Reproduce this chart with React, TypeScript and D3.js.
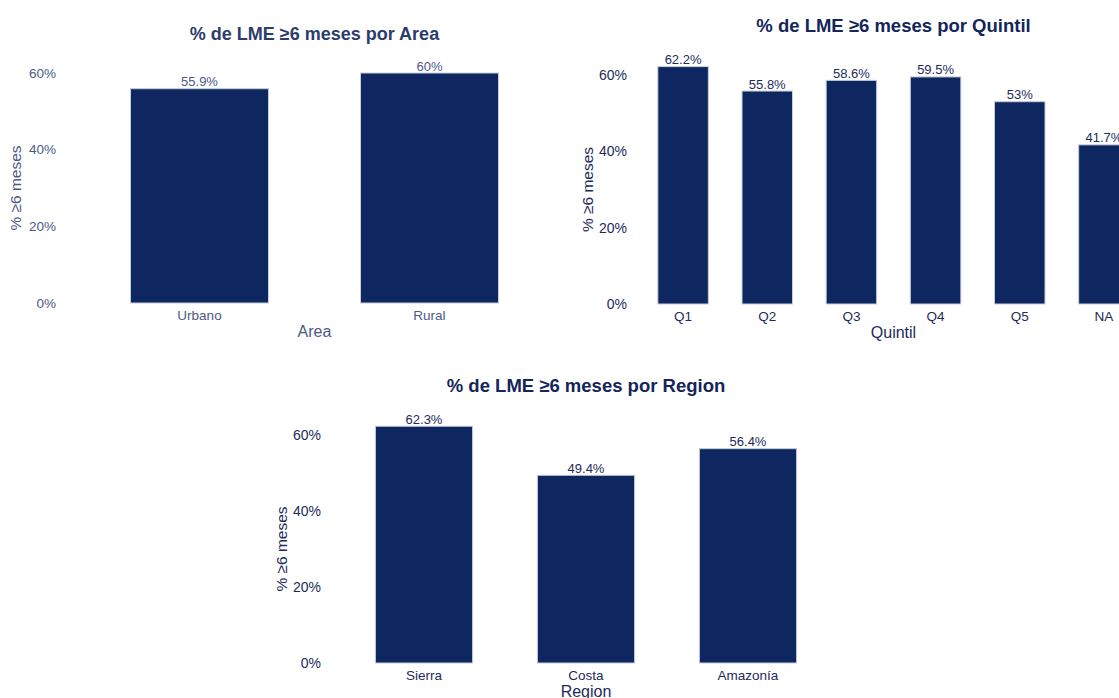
import React from "react";
import * as d3 from "d3";

// Breastfeeding (LME ≥6 meses) shares, in percent
const areaCategories = ["Urbano", "Rural"];
const areaValues = [55.9, 60];

const quintilCategories = ["Q1", "Q2", "Q3", "Q4", "Q5", "NA"];
const quintilValues = [62.2, 55.8, 58.6, 59.5, 53, 41.7];

const regionCategories = ["Sierra", "Costa", "Amazonía"];
const regionValues = [62.3, 49.4, 56.4];

const yTicks = [0, 20, 40, 60];

const FONT = "'Liberation Sans', Arial, Helvetica, sans-serif";
const BAR_FILL = "#0e2760";
const BAR_STROKE = "#c9cdd8";

type PanelProps = {
  title: string;
  xTitle: string;
  categories: string[];
  values: number[];
  x0: number;
  x1: number;
  yBase: number;
  y60: number;
  tickX: number;
  yTitleX: number;
  titleY: number;
  titleSize: number;
  tickSize: number;
  textColor: string;
  titleColor: string;
};

function fmt(v: number): string {
  return `${d3.format("~")(Math.round(v * 10) / 10)}%`;
}

function Panel(p: PanelProps) {
  const x = d3
    .scaleBand<string>()
    .domain(p.categories)
    .range([p.x0, p.x1])
    .paddingInner(0.4)
    .paddingOuter(0.2);
  const y = d3.scaleLinear().domain([0, 60]).range([p.yBase, p.y60]);
  const cx = (p.x0 + p.x1) / 2;
  const cy = (p.yBase + p.y60) / 2;
  return (
    <g fontFamily={FONT}>
      <text
        x={cx}
        y={p.titleY}
        textAnchor="middle"
        fontSize={p.titleSize}
        fontWeight="bold"
        fill={p.titleColor}
      >
        {p.title}
      </text>
      {yTicks.map((t) => (
        <text
          key={t}
          x={p.tickX}
          y={y(t)}
          dy="0.35em"
          textAnchor="end"
          fontSize={p.tickSize}
          fill={p.textColor}
        >
          {`${t}%`}
        </text>
      ))}
      <text
        transform={`translate(${p.yTitleX},${cy}) rotate(-90)`}
        textAnchor="middle"
        dy="0.35em"
        fontSize={15.5}
        fill={p.textColor}
      >
        % ≥6 meses
      </text>
      {p.categories.map((c, i) => {
        const v = p.values[i];
        const bx = x(c)!;
        const bw = x.bandwidth();
        return (
          <g key={c}>
            <rect
              x={bx}
              y={y(v)}
              width={bw}
              height={y(0) - y(v)}
              fill={BAR_FILL}
              stroke={BAR_STROKE}
              strokeWidth={1}
            />
            <text
              x={bx + bw / 2}
              y={y(v) - 2.5}
              textAnchor="middle"
              fontSize={13}
              fill={p.textColor}
            >
              {fmt(v)}
            </text>
            <text
              x={bx + bw / 2}
              y={p.yBase + 17}
              textAnchor="middle"
              fontSize={13.5}
              fill={p.textColor}
            >
              {c}
            </text>
          </g>
        );
      })}
      <text
        x={cx}
        y={p.yBase + 34}
        textAnchor="middle"
        fontSize={16}
        fill={p.textColor}
      >
        {p.xTitle}
      </text>
    </g>
  );
}

export default function App() {
  return (
    <svg
      width={1119}
      height={698}
      style={{ position: "absolute", left: 0, top: 0, display: "block", background: "#fff" }}
    >
      <Panel
        title="% de LME ≥6 meses por Area"
        xTitle="Area"
        categories={areaCategories}
        values={areaValues}
        x0={84.5}
        x1={544.5}
        yBase={303}
        y60={73}
        tickX={56}
        yTitleX={16}
        titleY={40}
        titleSize={18}
        tickSize={13.5}
        textColor="#4a5a86"
        titleColor="#2b3c6e"
      />
      <Panel
        title="% de LME ≥6 meses por Quintil"
        xTitle="Quintil"
        categories={quintilCategories}
        values={quintilValues}
        x0={641}
        x1={1146}
        yBase={304}
        y60={75}
        tickX={627}
        yTitleX={588}
        titleY={32}
        titleSize={18.5}
        tickSize={14}
        textColor="#1c2b5b"
        titleColor="#14255a"
      />
      <Panel
        title="% de LME ≥6 meses por Region"
        xTitle="Region"
        categories={regionCategories}
        values={regionValues}
        x0={343}
        x1={829}
        yBase={663}
        y60={435}
        tickX={321}
        yTitleX={282}
        titleY={392}
        titleSize={18.5}
        tickSize={14}
        textColor="#1c2b5b"
        titleColor="#14255a"
      />
    </svg>
  );
}
